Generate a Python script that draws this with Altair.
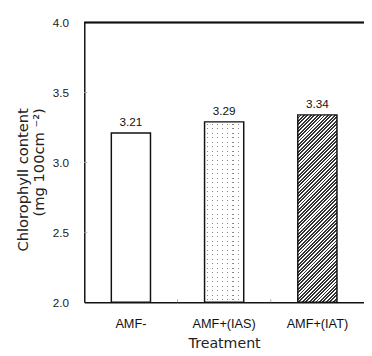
import altair as alt
import pandas as pd

# ---- data ----
treatments = ["AMF-", "AMF+(IAS)", "AMF+(IAT)"]
chlorophyll = [3.21, 3.29, 3.34]
y_tick_values = [2.0, 2.5, 3.0, 3.5, 4.0]
inner_tick_values = [2.5, 3.0, 3.5]
boundary_categories = ["AMF+(IAS)", "AMF+(IAT)"]

# ---- layout / style constants ----
W_PLOT, H_PLOT = 286, 286
Y_MIN, Y_MAX = 2.0, 4.0
P_IN = 0.58
P_OUT = P_IN / 2
STEP = W_PLOT / len(treatments)
BAR_W = STEP * (1 - P_IN)

df = pd.DataFrame({"treatment": treatments, "value": chlorophyll})
ticks_df = pd.DataFrame({"v": inner_tick_values})
bound_df = pd.DataFrame({"treatment": boundary_categories})


def bar_height(v):
    return H_PLOT * (v - Y_MIN) / (Y_MAX - Y_MIN)


def stripe_stops(length, period, on_w, start, on_color, off_color):
    """Hard-edged gradient stops: 'on' bands of width on_w every period px."""
    stops = [(0.0, off_color)]
    pos = start
    while pos < length:
        a = max(pos, 0.0)
        b = min(pos + on_w, length)
        if b > a:
            stops += [(a / length, off_color), (a / length, on_color),
                      (b / length, on_color), (b / length, off_color)]
        pos += period
    stops.append((1.0, off_color))
    cleaned, last = [], 0.0
    for o, c in stops:
        o = min(max(o, last), 1.0)
        cleaned.append(alt.GradientStop(offset=round(o, 5), color=c))
        last = o
    return cleaned


CLEAR = "rgba(255,255,255,0)"

# hatch for IAT: "/" stripes, isolines x + y = const in pixels
h_iat = bar_height(chlorophyll[2])
k = (BAR_W + h_iat) / (BAR_W ** 2 + h_iat ** 2)
hatch = alt.LinearGradient(
    gradient="linear",
    stops=stripe_stops(BAR_W + h_iat, 3.5, 1.9, -1.0, "#333333", "#ffffff"),
    x1=0, y1=0, x2=round(BAR_W * k, 5), y2=round(h_iat * k, 5),
)

# dot grid for IAS: grey rect masked by white columns and white rows
h_ias = bar_height(chlorophyll[1])
col_mask = alt.LinearGradient(
    gradient="linear",
    stops=stripe_stops(BAR_W, 5.2, 1.1, 2.5, CLEAR, "#ffffff"),
    x1=0, y1=0, x2=1, y2=0,
)
row_mask = alt.LinearGradient(
    gradient="linear",
    stops=stripe_stops(h_ias, 4.6, 1.1, 2.0, CLEAR, "#ffffff"),
    x1=0, y1=0, x2=0, y2=1,
)

x_enc = alt.X(
    "treatment:N", sort=treatments,
    scale=alt.Scale(paddingInner=P_IN, paddingOuter=P_OUT),
    axis=alt.Axis(
        title="Treatment", labelAngle=0, ticks=False, tickSize=0,
        labelPadding=16, labelFont="Liberation Sans", labelFontSize=13,
        labelColor="#111", domainColor="#111", domainWidth=1.5,
        titleFont="DejaVu Sans", titleFontSize=14.5, titleFontWeight="normal",
        titleColor="#222", titleBaseline="alphabetic", titleY=46,
    ),
)
y_enc = alt.Y(
    "value:Q",
    scale=alt.Scale(domain=[Y_MIN, Y_MAX], zero=False, nice=False),
    axis=alt.Axis(
        title=["Chlorophyll content", "(mg 100cm ⁻²)"], values=y_tick_values,
        format=".1f", ticks=False, tickSize=0, labelPadding=16, grid=False,
        labelFont="Liberation Sans", labelFontSize=12, labelColor="#222",
        domainColor="#111", domainWidth=1.5,
        titleFont="DejaVu Sans", titleFontSize=15, titleFontWeight="normal",
        titleColor="#222", titleAngle=-90, titleAlign="right",
        titleBaseline="middle", titleX=-63, titleY=87, titleLineHeight=16,
    ),
)

base = alt.Chart(df).encode(x=x_enc, y=y_enc, y2=alt.datum(Y_MIN))

white_bars = base.mark_bar(fill="white")
ias = base.transform_filter(alt.datum.treatment == treatments[1])
ias_grey = ias.mark_bar(fill="#8a8a8a")
ias_cols = ias.mark_bar(fill=col_mask)
ias_rows = ias.mark_bar(fill=row_mask)
iat = base.transform_filter(alt.datum.treatment == treatments[2]).mark_bar(fill=hatch)
outline = base.mark_bar(fill="white", fillOpacity=0, stroke="#111", strokeWidth=1.5)

labels = alt.Chart(df).mark_text(
    dy=-7, baseline="alphabetic", font="Liberation Sans", fontSize=12, color="#111"
).encode(
    x=alt.X("treatment:N", sort=treatments),
    y="value:Q",
    text=alt.Text("value:Q", format=".2f"),
)

top_rule = alt.Chart(df).mark_rule(color="#111", strokeWidth=1.5).encode(
    y=alt.datum(Y_MAX), x=alt.value(0), x2=alt.value(W_PLOT)
)
y_inner = alt.Chart(ticks_df).mark_rule(color="#aaa", strokeWidth=1).encode(
    y="v:Q", x=alt.value(0), x2=alt.value(3)
)
x_inner = alt.Chart(bound_df).mark_rule(
    color="#aaa", strokeWidth=1, xOffset=-STEP / 2
).encode(
    x=alt.X("treatment:N", sort=treatments),
    y=alt.value(H_PLOT), y2=alt.value(H_PLOT - 3),
)

chart = alt.layer(
    white_bars, ias_grey, ias_cols, ias_rows, iat, outline, labels,
    top_rule, y_inner, x_inner,
).properties(
    width=W_PLOT, height=H_PLOT,
    autosize=alt.AutoSizeParams(type="none"),
    padding={"left": 78, "top": 11, "right": 0, "bottom": 50},
    background="white",
).configure_view(stroke=None)

chart.save("out.html", embed_options={"renderer": "svg", "actions": False})
